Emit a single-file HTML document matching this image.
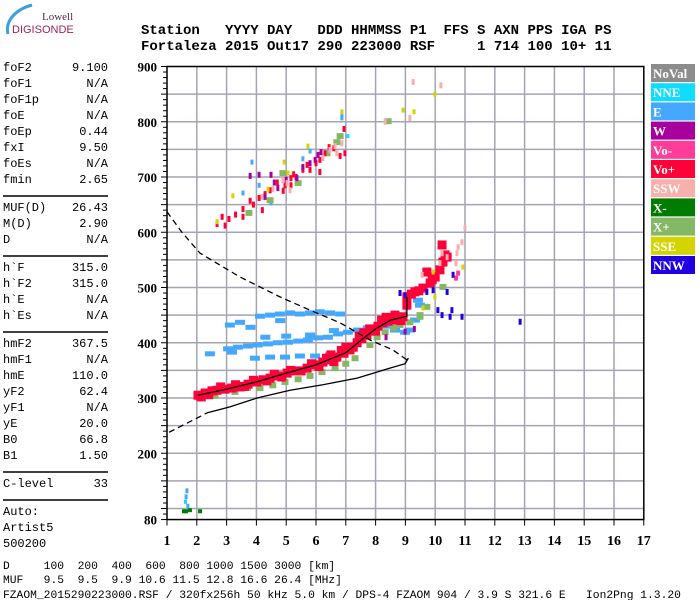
<!DOCTYPE html>
<html><head><meta charset="utf-8"><style>
html,body{margin:0;padding:0;background:#fff;width:700px;height:600px;overflow:hidden}
svg{display:block}
.mono{font-family:"Liberation Mono",monospace}
</style></head><body>
<svg id="chart" width="700" height="600" viewBox="0 0 700 600">
<g>
<path d="M8,34 C5,22 14,10 32,5" stroke="#3aa0e0" stroke-width="3" fill="none"/>
<text x="42" y="20" font-family="Liberation Serif,serif" font-size="11" fill="#5a2848">Lowell</text>
<text x="12" y="33" font-family="Liberation Sans,sans-serif" font-size="11" fill="#a02060">DIGISONDE</text>
</g>
<g class="mono" font-size="14" font-weight="bold">
<text x="141" y="34" xml:space="preserve">Station   YYYY DAY   DDD HHMMSS P1  FFS S AXN PPS IGA PS</text>
<text x="141" y="50" xml:space="preserve">Fortaleza 2015 Out17 290 223000 RSF     1 714 100 10+ 11</text>
</g>
<g id="params" class="mono" font-size="12"></g>
<g id="grid"></g>
<g id="axes"></g>
<g id="marks"></g>
<g id="curves"></g>
<g id="legend"></g>
<g class="mono" font-size="11.3">
<text x="3" y="569" xml:space="preserve">D     100  200  400  600  800 1000 1500 3000 [km]</text>
<text x="3" y="583" xml:space="preserve">MUF   9.5  9.5  9.9 10.6 11.5 12.8 16.6 26.4 [MHz]</text>
<text x="3" y="598" xml:space="preserve">FZAOM_2015290223000.RSF / 320fx256h 50 kHz 5.0 km / DPS-4 FZAOM 904 / 3.9 S 321.6 E   Ion2Png 1.3.20</text>
</g>
</svg>
<script>
const paramNames=["foF2","foF1","foF1p","foE","foEp","fxI","foEs","fmin","|","MUF(D)","M(D)","D","|","h`F","h`F2","h`E","h`Es","|","hmF2","hmF1","hmE","yF2","yF1","yE","B0","B1","|","C-level","|","Auto:","Artist5","500200"];
const paramValues=["9.100","N/A","N/A","N/A","0.44","9.50","N/A","2.65","","26.43","2.90","N/A","","315.0","315.0","N/A","N/A","","367.5","N/A","110.0","62.4","N/A","20.0","66.8","1.50","","33","","","",""];
const xTicks=[1,2,3,4,5,6,7,8,9,10,11,12,13,14,15,16,17];
const yTicks=[80,200,300,400,500,600,700,800,900];
const legendNames=["NoVal","NNE","E","W","Vo-","Vo+","SSW","X-","X+","SSE","NNW"];
const legendColors=["#8c8c8c","#10dcff","#44a8ff","#a8009c","#ff3c98","#ff0038","#f8b0ac","#007c00","#84b864","#d4d400","#2000e0"];
// series: [freq MHz, virtual height km]
const seriesVoPlus=[[2.04,305],[2.28,309],[2.51,313],[2.68,314],[2.95,316],[3.18,318],[3.45,320],[3.72,325],[4.02,329],[4.22,333],[4.46,336],[4.72,340],[5.03,345],[5.3,349],[5.7,354],[5.97,360],[6.23,365],[6.47,369],[6.7,374],[6.94,381],[7.14,387],[7.38,400],[7.54,407],[7.71,414],[7.91,423],[8.08,430],[8.25,436],[8.42,439],[8.58,441],[8.75,445],[8.92,447],[9.05,468],[9.05,483],[9.32,492],[9.59,499],[9.83,508],[10.0,519],[10.16,532],[10.26,546],[10.33,559],[10.23,577],[9.72,528],[10.4,555],[7.0,392],[6.5,378],[7.6,418],[8.2,441],
[2.15,302],[2.4,306],[2.8,320],[3.3,324],[3.6,321],[3.9,332],[4.35,331],[4.6,343],[4.85,338],[5.15,350],[5.5,349],[5.85,362],[6.1,357],[6.35,372],[6.6,366],[6.85,386],[7.25,392],[7.45,412],[7.8,425],[8.0,421],[8.35,446],[8.65,450],[8.85,440],[9.2,488],[9.45,494],[9.9,514]];
const seriesVoPlusUpper=[[2.68,615],[2.85,628],[3.08,624],[3.55,628],[3.55,642],[3.79,657],[4.09,662],[4.29,669],[4.46,676],[4.96,685],[5.16,685],[5.16,698],[5.33,700],[5.56,713],[5.8,713],[6.13,709],[6.13,731],[6.3,743],[6.44,754],[6.81,738],[6.97,743],[6.94,787],[4.2,640],[3.9,650],[4.7,690],[4.9,675],[5.25,705],[5.7,722],[6.0,725],[6.6,752],[3.3,632],[2.95,612]];
const seriesXPlus=[[2.61,304],[3.28,311],[4.12,318],[4.96,329],[5.8,340],[6.64,354],[7.31,372],[7.81,396],[8.32,419],[8.82,432],[9.15,437],[9.49,450],[9.72,465],[9.49,447],[10.26,501],[6.7,763],[6.81,774],[6.37,743],[8.42,801],[4.89,707],[4.46,658],[3.75,635],[5.4,689],[3.7,318],[4.55,323],[5.4,334],[6.2,347],[7.0,362],[8.05,410],[8.6,427]];
const seriesE=[[3.05,389],[3.38,392],[3.72,394],[4.05,396],[4.39,398],[4.72,400],[5.06,401],[5.4,403],[5.73,405],[6.07,409],[6.4,410],[6.74,416],[7.07,419],[7.41,423],[7.74,427],[8.08,429],[8.32,430],[3.95,372],[4.46,374],[4.96,374],[5.46,376],[5.97,376],[6.47,378],[4.12,448],[4.46,450],[4.79,452],[5.13,454],[5.46,452],[5.8,454],[6.13,456],[6.47,454],[6.81,452],[3.11,432],[3.45,437],[3.18,383],[2.44,380],[9.15,423],[9.32,441],[9.49,468],[9.42,477],[8.99,419],[8.65,423],[4.3,410],[5.0,412],[5.8,414],[6.6,422],[4.8,440],[3.8,428]];
const seriesEUpper=[[4.09,685],[3.85,727],[4.49,653],[5.56,733],[5.8,747],[6.87,814],[6.87,807],[3.55,671],[1.64,121],[1.67,132],[1.7,104]];
const seriesW=[[4.09,704],[4.49,704],[4.29,664],[4.72,680],[5.36,698],[5.56,718],[5.97,731],[6.07,740],[6.17,745],[3.79,702],[8.35,410],[8.99,420],[9.3,425],[5.0,695],[4.6,690],[5.8,725]];
const seriesSSW=[[5.03,689],[4.89,694],[5.13,676],[6.23,734],[6.47,749],[6.64,756],[6.7,743],[6.87,761],[4.56,678],[4.19,664],[8.32,800],[9.26,872],[10.19,866],[9.15,807],[11.0,608],[10.9,582],[10.77,573],[10.73,562],[10.23,562],[10.4,555],[10.16,544],[10.7,544],[9.56,523]];
const seriesVoMinus=[[10.77,526],[10.7,517]];
const seriesSSE=[[2.68,619],[3.21,666],[4.39,678],[4.93,727],[5.06,707],[5.73,756],[6.87,818],[9.29,818],[8.92,821],[9.99,850],[10.93,537],[9.93,528],[9.59,463],[9.99,483]];
const seriesNNW=[[10.6,523],[10.56,459],[10.9,447],[10.5,447],[10.23,450],[10.09,459],[10.4,492],[9.93,495],[8.82,490],[12.85,438],[9.72,492],[8.99,486]];
const seriesXMinus=[[1.57,95],[1.77,97],[2.11,95],[1.64,95]];
const seriesNNE=[[7.07,774],[1.62,112]];
const profileSolid=[[9.05,369],[9.1,372],[8.99,362],[8.48,354],[7.38,336],[6.23,324],[5.13,314],[4.02,300],[3.11,284],[2.34,273]];
const profileDashed=[[1.0,637],[1.5,600],[2.11,562],[3.45,519],[4.79,483],[5.8,459],[6.81,436],[7.81,405],[8.58,387],[9.05,369]];
const profileDashedLow=[[1.07,238],[1.8,258],[2.34,273]];
const traceLine=[[2.04,305],[3.0,316],[4.0,329],[5.0,345],[6.0,360],[7.0,382],[7.5,404],[8.0,425],[8.5,441],[9.05,448],[9.05,483]];

const NS="http://www.w3.org/2000/svg";
const X0=167,XS=29.8,Y300=398,YS=0.5525;
function fx(f){return X0+(f-1)*XS;}
function fy(h){return Y300-(h-300)*YS;}
function mk(tag,attrs,parent){const e=document.createElementNS(NS,tag);for(const k in attrs)e.setAttribute(k,attrs[k]);parent.appendChild(e);return e;}

const pp=document.getElementById('params');
let py=71;
paramNames.forEach((n,i)=>{
 if(n==="|"){const l=mk('line',{x1:3,x2:108,y1:py-3,y2:py-3,stroke:'#000','stroke-width':1.5},pp);
  
  
  py+=12;return;}
 const t=mk('text',{x:3,y:py},pp);t.textContent=n;
 
 
 if(paramValues[i]){const v=mk('text',{x:108,y:py,'text-anchor':'end'},pp);v.textContent=paramValues[i];
  
  }
 py+=16;
});

const g=document.getElementById('grid');
const XR=fx(17);
for(let f=2;f<=16;f++){const l=mk('line',{x1:fx(f),x2:fx(f),y1:fy(900),y2:fy(80),stroke:'#a4a4b4','stroke-width':1.5},g);
 
 }
for(let h=100;h<900;h+=50){const l=mk('line',{x1:X0,x2:XR,y1:fy(h),y2:fy(h),stroke:'#a4a4b4','stroke-width':1.5},g);
 
 }

const ax=document.getElementById('axes');
const fr=mk('rect',{x:X0,y:fy(900),width:XR-X0,height:fy(80)-fy(900),fill:'none',stroke:'#000','stroke-width':1.5},ax);


for(let h=80;h<=900;h+=10){const major=(h%50===0)||h===80;const l=mk('line',{x1:X0-(major?6:4),x2:X0,y1:fy(h),y2:fy(h),stroke:'#000','stroke-width':1},ax);
 
 }
yTicks.forEach(h=>{const t=mk('text',{x:157,y:fy(h)+5,'text-anchor':'end','font-family':'Liberation Serif,serif','font-weight':'bold','font-size':13},ax);t.textContent=h;
 
 });
xTicks.forEach(f=>{const l=mk('line',{x1:fx(f),x2:fx(f),y1:fy(80),y2:fy(80)+6,stroke:'#000'},ax);
 
 
 const t=mk('text',{x:fx(f),y:545,'text-anchor':'middle','font-family':'Liberation Serif,serif','font-weight':'bold','font-size':14},ax);t.textContent=f;
 
 });

const mg=document.getElementById('marks');
function draw(arr,ci,w,h,name){arr.forEach(d=>{const r=mk('rect',{x:fx(d[0])-w/2,y:fy(d[1])-h/2,width:w,height:h,fill:legendColors[ci]},mg);
 
 });}
draw(seriesE,2,10,5,'echo-e');
draw(seriesEUpper,2,3,5,'echo-e-upper');
draw(seriesXPlus,8,7,6,'echo-x-plus');
draw(seriesVoPlus,5,9,9,'echo-vo-plus');
draw(seriesVoPlusUpper,5,3,6,'echo-vo-plus-upper');
draw(seriesW,3,3,6,'echo-w');
draw(seriesSSW,6,3,6,'echo-ssw');
draw(seriesVoMinus,4,4,5,'echo-vo-minus');
draw(seriesSSE,9,3,5,'echo-sse');
draw(seriesNNW,10,3,6,'echo-nnw');
draw(seriesXMinus,7,4,4,'echo-x-minus');
draw(seriesNNE,1,3,4,'echo-nne');

const cv=document.getElementById('curves');
function poly(arr,dash,name){const p=mk('polyline',{points:arr.map(d=>fx(d[0])+','+fy(d[1])).join(' '),fill:'none',stroke:'#000','stroke-width':1.3,'stroke-dasharray':dash||'none'},cv);
 
 }
poly(profileSolid,null,'profile-solid');
poly(profileDashed,'6,4','profile-dashed');
poly(profileDashedLow,'6,4','profile-dashed-low');
poly(traceLine,null,'trace-line');

const lg=document.getElementById('legend');
legendNames.forEach((n,i)=>{const y=64+i*19.2;
 const r=mk('rect',{x:651,y:y,width:44,height:18,fill:legendColors[i]},lg);
 
 
 const t=mk('text',{x:653,y:y+14,fill:'#fff','font-family':'Liberation Serif,serif','font-weight':'bold','font-size':13},lg);t.textContent=n;
 
 });
</script>
</body></html>
